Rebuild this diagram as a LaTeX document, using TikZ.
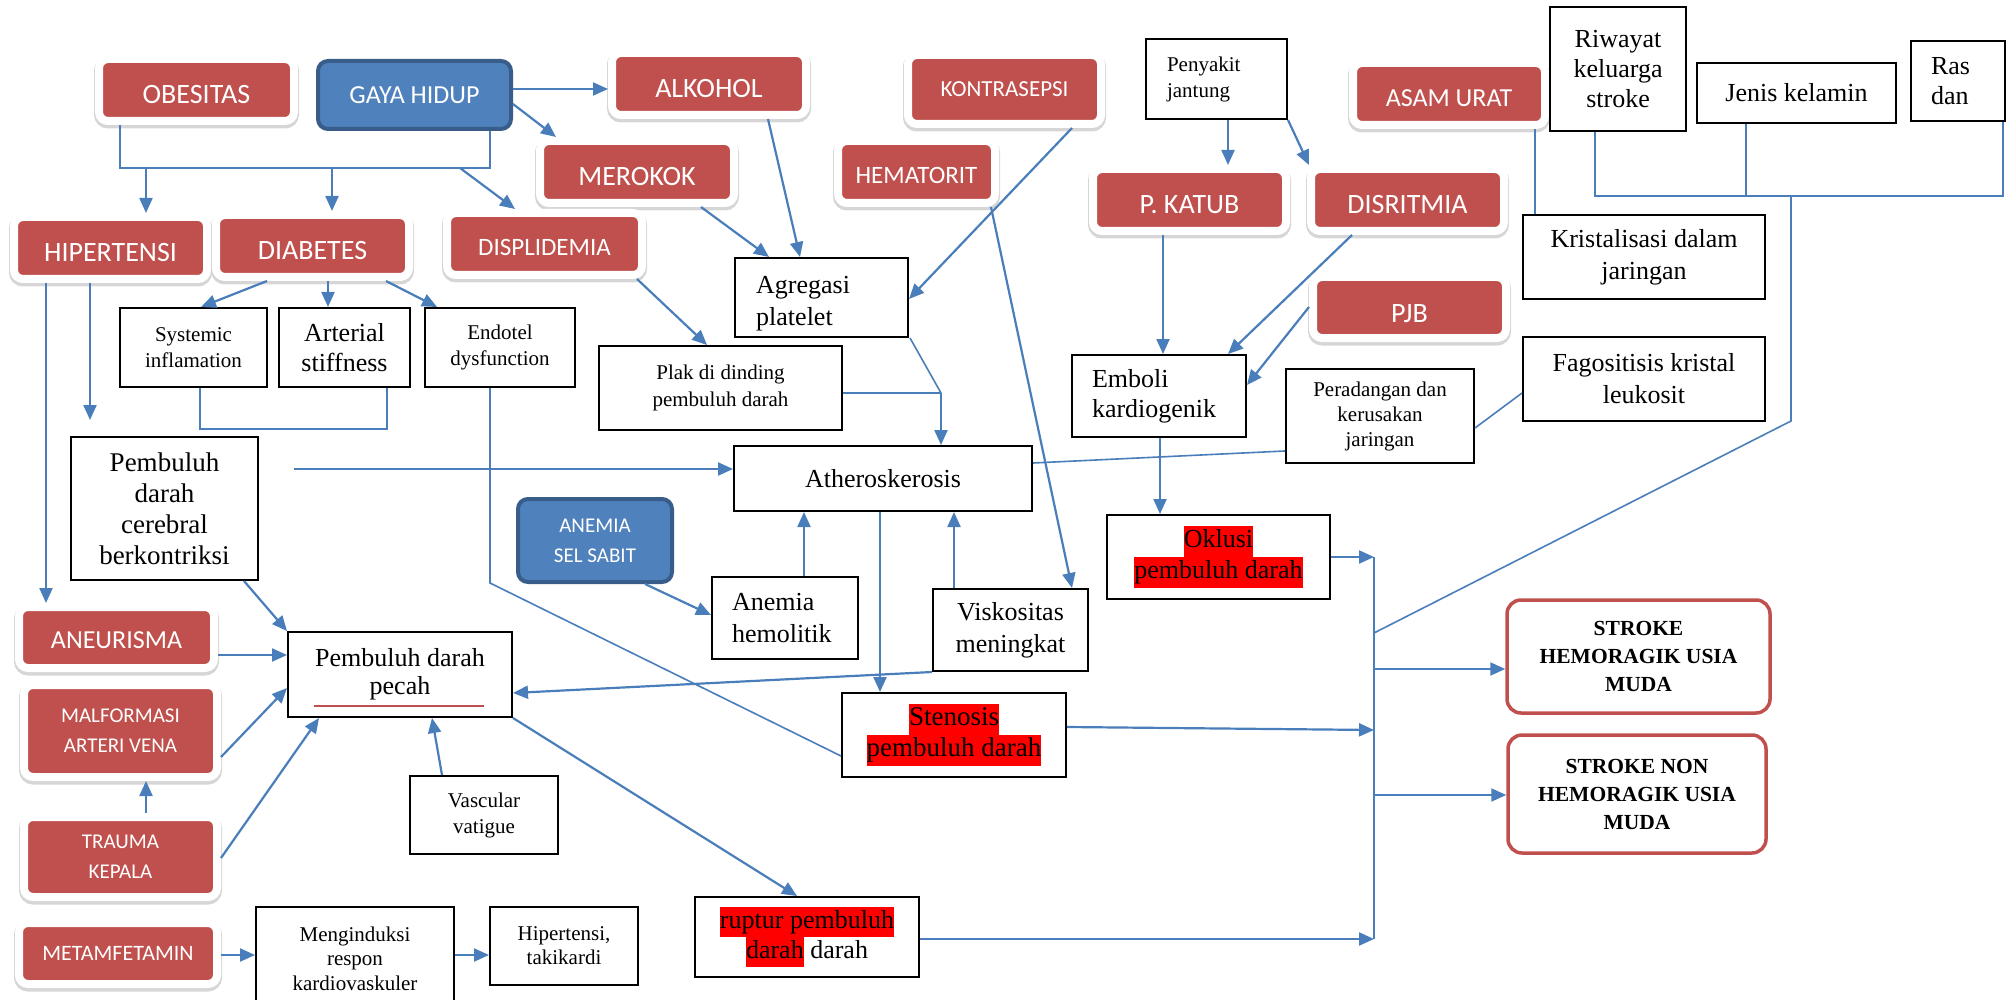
\documentclass[tikz,border=0pt]{standalone}
\usepackage{fontspec}
\setmainfont{Liberation Serif}
\newfontfamily\calfont{Carlito}
\usetikzlibrary{arrows.meta,calc}
\definecolor{redc}{HTML}{C0504D}
\definecolor{bluec}{HTML}{4F81BD}
\definecolor{bluedk}{HTML}{385D8A}
\definecolor{arrc}{HTML}{4A7EBB}
\newcommand\hl[1]{{\setlength{\fboxsep}{0pt}\colorbox{red}{\strut #1}}}
\begin{document}
\begin{tikzpicture}[x=1pt,y=-1pt,
  redbox/.style={rectangle, rounded corners=9pt, fill=redc, draw=white, line width=8pt, text=white, align=center, inner sep=0pt,
     preaction={draw=black!16, line width=10pt, transform canvas={yshift=-2.5pt}}},
  bluebox/.style={rectangle, rounded corners=10pt, fill=bluec, draw=bluedk, line width=4pt, text=white, align=center, inner sep=0pt},
  cal/.style={font={\calfont\fontsize{#1}{30}\selectfont}},
  low/.style={text height=#1, text depth=0pt},
  plain/.style={rectangle, draw=black, line width=2pt, align=center, inner sep=0pt, font={\fontsize{26}{31}\selectfont}},
  tf/.style 2 args={font={\fontsize{#1}{#2}\selectfont}},
  strokebox/.style={rectangle, rounded corners=14pt, draw=redc, line width=3.5pt, align=center, inner sep=0pt, font={\bfseries\fontsize{21.5}{28}\selectfont}},
  arr/.style={draw=arrc, line width=2.2pt, -{Triangle[length=15pt,width=13pt]}},
  ln/.style={draw=arrc, line width=1.6pt}]
\useasboundingbox (0,0) rectangle (2010,1000);

% ---------- red / blue boxes ----------
\node[redbox,cal=28,low=27.5pt,minimum width=195pt,minimum height=62pt] (obes) at (196.5,90) {OBESITAS};
\node[bluebox,cal=26,minimum width=193pt,minimum height=68pt] (gaya) at (414.5,95) {GAYA HIDUP};
\node[redbox,cal=28,low=27.5pt,minimum width=194pt,minimum height=62pt] (alk) at (709,84) {ALKOHOL};
\node[redbox,cal=28,low=27.5pt,minimum width=194pt,minimum height=62pt] (mer) at (637,172) {MEROKOK};
\node[redbox,cal=28,low=27.5pt,minimum width=193pt,minimum height=62pt] (hip) at (110.5,248) {HIPERTENSI};
\node[redbox,cal=28,low=27.5pt,minimum width=193pt,minimum height=62pt] (dia) at (312.5,246) {DIABETES};
\node[redbox,cal=25,low=22.8pt,minimum width=195pt,minimum height=62pt] (dis) at (544.5,244) {DISPLIDEMIA};
\node[redbox,cal=23,minimum width=193pt,minimum height=69pt] (kon) at (1004.5,89.5) {KONTRASEPSI};
\node[redbox,cal=25,low=23.8pt,minimum width=157pt,minimum height=62pt] (hem) at (916.5,172) {HEMATORIT};
\node[redbox,cal=26,low=24.4pt,minimum width=192pt,minimum height=62pt] (asam) at (1449,94) {ASAM URAT};
\node[redbox,cal=28,low=27.5pt,minimum width=193pt,minimum height=62pt] (katub) at (1189.5,200) {P. KATUB};
\node[redbox,cal=28,low=27.5pt,minimum width=193pt,minimum height=62pt] (disr) at (1407.5,200) {DISRITMIA};
\node[redbox,cal=28,low=29pt,minimum width=193pt,minimum height=61pt] (pjb) at (1409.5,307.5) {PJB};
\node[redbox,cal=26,low=22.4pt,minimum width=195pt,minimum height=61pt] (aneur) at (116.5,637.5) {ANEURISMA};
\node[redbox,cal=21,minimum width=193pt,minimum height=92pt] (malf) at (120.5,731) {MALFORMASI\\ARTERI VENA};
\node[redbox,cal=21,minimum width=193pt,minimum height=80pt] (trauma) at (120.5,857) {TRAUMA\\KEPALA};
\node[redbox,cal=22,minimum width=198pt,minimum height=61pt] (meta) at (118,953.5) {METAMFETAMIN};
\node[bluebox,cal=21,minimum width=154pt,minimum height=83pt] (anem) at (595,540.5) {ANEMIA\\SEL SABIT};

% ---------- plain boxes ----------
\node[plain,tf={21}{26},minimum width=141pt,minimum height=80pt,align=left,text width=99pt] (peny) at (1216.5,79) {Penyakit\\jantung};
\node[plain,tf={26}{30},minimum width=136pt,minimum height=124pt] (riw) at (1618,69) {Riwayat\\keluarga\\stroke};
\node[plain,minimum width=199pt,minimum height=60pt] (jenis) at (1796.5,93) {Jenis kelamin};
\node[plain,tf={26}{30},minimum width=94pt,minimum height=80pt,align=left,text width=54pt] (ras) at (1958,81) {Ras\\dan};
\node[plain,tf={26}{32},minimum width=242pt,minimum height=84pt] (kris) at (1644,257) {Kristalisasi dalam\\jaringan};
\node[plain,tf={26}{32},minimum width=242pt,minimum height=84pt] (fago) at (1644,379) {Fagositisis kristal\\leukosit};
\node[plain,tf={21}{25},minimum width=188pt,minimum height=94pt] (perad) at (1380,416) {Peradangan dan\\kerusakan\\jaringan};
\node[plain,tf={26}{30},minimum width=174pt,minimum height=82pt,align=left,text width=134pt] (emb) at (1159,396) {Emboli\\kardiogenik};
\node[plain,tf={26}{31},minimum width=223pt,minimum height=84pt] (okl) at (1218.5,557) {\hl{Oklusi}\\\hl{pembuluh darah}};
\node[plain,minimum width=173pt,minimum height=79pt] (agr) at (821.5,297.5) {};
\node[tf={26}{32},align=left,anchor=west,inner sep=0pt] (agrt) at (756,304) {Agregasi\\platelet};
\node[plain,tf={21}{27},minimum width=243pt,minimum height=84pt] (plak) at (720.5,388) {Plak di dinding\\pembuluh darah};
\node[plain,minimum width=298pt,minimum height=65pt] (ath) at (883,478.5) {Atheroskerosis};
\node[plain,tf={21}{26},minimum width=147pt,minimum height=79pt] (sys) at (193.5,347.5) {Systemic\\inflamation};
\node[plain,tf={26}{30},minimum width=131pt,minimum height=79pt] (art) at (344.5,347.5) {Arterial\\stiffness};
\node[plain,tf={21}{26},minimum width=150pt,minimum height=79pt] (endo) at (500,347.5) {Endotel\\dysfunction};
\node[plain,tf={27}{31},minimum width=187pt,minimum height=143pt] (cereb) at (164.5,508.5) {Pembuluh\\darah\\cerebral\\berkontriksi};
\node[plain,tf={26}{32},minimum width=146pt,minimum height=82pt,align=left,text width=106pt] (hem2) at (785,618) {Anemia\\hemolitik};
\node[plain,tf={26}{32},minimum width=155pt,minimum height=82pt] (visk) at (1010.5,630) {Viskositas\\meningkat};
\node[plain,tf={26}{28},minimum width=224pt,minimum height=85pt] (pecah) at (400,674.5) {Pembuluh darah\\pecah};
\node[plain,tf={27}{31},minimum width=224pt,minimum height=84pt] (sten) at (954,735) {\hl{Stenosis}\\\hl{pembuluh darah}};
\node[plain,tf={21}{26},minimum width=148pt,minimum height=78pt] (vasc) at (484,815) {Vascular\\vatigue};
\node[plain,tf={26}{30},minimum width=224pt,minimum height=80pt] (rupt) at (807,937) {\hl{ruptur pembuluh}\\\hl{darah} darah};
\node[plain,tf={21}{24.5},minimum width=198pt,minimum height=103pt] (meng) at (355,958.5) {Menginduksi\\respon\\kardiovaskuler};
\node[plain,tf={21}{24},minimum width=148pt,minimum height=78pt] (htak) at (564,946) {Hipertensi,\\takikardi};
\node[strokebox,minimum width=263pt,minimum height=113pt] (sh) at (1638.5,656.5) {STROKE\\HEMORAGIK USIA\\MUDA};
\node[strokebox,minimum width=258pt,minimum height=118pt] (snh) at (1637,794) {STROKE NON\\HEMORAGIK USIA\\MUDA};

% red underline
\draw[redc, line width=2pt] (314,706) -- (484,706);

% ---------- connectors ----------
\draw[arr] (gaya.east |- 0,89) -- (alk.west |- 0,89);
\draw[arr] (gaya.east |- 0,104) -- (mer.north -| 556,0);

\coordinate (bra) at (120,168); \coordinate (brb) at (490,168);
\draw[ln] (obes.south -| bra) -- (bra) -- (brb) -- (gaya.south -| brb);
\coordinate (br1) at (146,168); \coordinate (br2) at (332,168); \coordinate (br3) at (460,168);
\draw[arr] (br1) -- (hip.north -| br1);
\draw[arr] (br2) -- (dia.north -| br2);
\draw[arr] (br3) -- (dis.north -| 515,0);

\draw[arr] (dia.south -| 267,0) -- (sys.north -| 201,0);
\draw[arr] (dia.south -| 328,0) -- (art.north -| 328,0);
\draw[arr] (dia.south -| 386,0) -- (endo.north -| 437,0);

\draw[arr] (hip.south -| 46,0) -- (aneur.north -| 46,0);
\coordinate (hipend) at (90,420);
\draw[arr] (hip.south -| hipend) -- (hipend);

\coordinate (sab1) at (200,429); \coordinate (sab2) at (387,429);
\draw[ln] (sys.south -| sab1) -- (sab1) -- (sab2) -- (art.south -| sab2);

\coordinate (athin) at (294,469);
\draw[arr] (athin) -- (ath.west |- athin);

\coordinate (endk) at (490,583);
\draw[ln] (endo.south -| endk) -- (endk) -- (sten.west |- 0,756);

\draw[arr] (dis.south -| 637,0) -- (plak.north -| 707,0);
\draw[arr] (mer.south -| 701,0) -- (agr.north -| 769,0);
\draw[arr] (alk.south -| 768,0) -- (agr.north -| 800,0);
\draw[arr] (kon.south -| 1072,0) -- (agr.east |- 0,299);
\draw[arr] (hem.south -| 991,0) -- (visk.north -| 1072,0);

\coordinate (jn) at (941,393);
\draw[ln] (agr.south -| 910,0) -- (jn);
\draw[ln] (plak.east |- jn) -- (jn);
\draw[arr] (jn) -- (ath.north -| jn);

\draw[ln] (ath.east |- 0,463) -- (perad.west |- 0,451);
\draw[ln] (perad.east |- 0,428) -- (fago.west |- 0,393);
\draw[arr] (ath.south -| 880,0) -- (sten.north -| 880,0);
\draw[arr] (hem2.north -| 804,0) -- (ath.south -| 804,0);
\draw[arr] (visk.north -| 954,0) -- (ath.south -| 954,0);
\draw[arr] (anem.south -| 645,0) -- (hem2.west |- 0,615);
\draw[arr] (visk.south west) -- (pecah.east |- 0,693);
\draw[arr] (cereb.south -| 244,0) -- (pecah.north west);
\draw[arr] (aneur.east |- 0,655) -- (pecah.west |- 0,655);
\draw[arr] (malf.east |- 0,757) -- (pecah.west |- 0,688);
\draw[arr] (trauma.north -| 146,0) -- (malf.south -| 146,0);
\draw[arr] (trauma.east |- 0,858) -- (pecah.south -| 319,0);
\draw[arr] (vasc.north -| 442,0) -- (pecah.south -| 432,0);
\draw[arr] (pecah.south east) -- (rupt.north -| 797,0);
\draw[arr] (meta.east |- 0,955) -- (meng.west |- 0,955);
\draw[arr] (meng.east |- 0,955) -- (htak.west |- 0,955);

\draw[arr] (peny.south -| 1228,0) -- (katub.north -| 1228,0);
\draw[arr] (peny.south east) -- (disr.north -| 1309,0);
\draw[arr] (katub.south -| 1163,0) -- (emb.north -| 1163,0);
\draw[arr] (disr.south -| 1352,0) -- (emb.north -| 1228,0);
\draw[arr] (pjb.west |- 0,307) -- (emb.east |- 0,385);
\draw[arr] (emb.south -| 1160,0) -- (okl.north -| 1160,0);
\draw[ln] (asam.south -| 1535,0) -- (kris.north -| 1535,0);

\coordinate (rb1) at (1595,196); \coordinate (rb2) at (2003,196);
\coordinate (rbm) at (1746,196); \coordinate (rbd) at (1791,196); \coordinate (rbk) at (1791,421);
\draw[ln] (riw.south -| rb1) -- (rb1) -- (rb2) -- (ras.south -| rb2);
\draw[ln] (jenis.south -| rbm) -- (rbm);
\coordinate (ct) at (1374,557); \coordinate (cb) at (1374,939);
\draw[ln] (rbd) -- (rbk) -- (ct |- 0,633);
\draw[ln] (ct) -- (cb);
\draw[arr] (okl.east |- ct) -- (ct);
\draw[arr] (sten.east |- 0,727) -- (ct |- 0,730);
\draw[arr] (rupt.east |- cb) -- (cb);
\draw[arr] (ct |- 0,669) -- (sh.west |- 0,669);
\draw[arr] (ct |- 0,795) -- (snh.west |- 0,795);
\end{tikzpicture}
\end{document}
